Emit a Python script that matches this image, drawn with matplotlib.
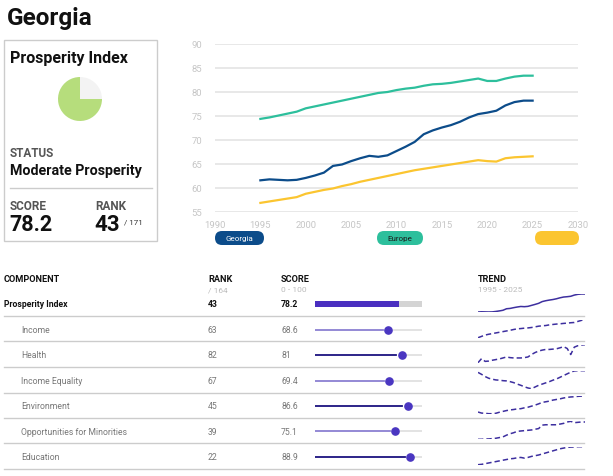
import numpy as np
import matplotlib.pyplot as plt
from matplotlib.patches import FancyBboxPatch, Rectangle

plt.rcParams['font.family'] = ['Roboto', 'DejaVu Sans']

# --- data ---
years = np.arange(1995, 2026)

georgia = [61.6, 61.8, 61.7, 61.6, 61.7, 62.1, 62.6, 63.2, 64.6, 64.9,
           65.6, 66.2, 66.7, 66.5, 66.8, 67.7, 68.6, 69.6, 71.2, 72.0,
           72.6, 73.1, 73.8, 74.7, 75.4, 75.7, 76.1, 77.2, 77.9, 78.2, 78.2]
europe = [74.4, 74.7, 75.1, 75.5, 75.9, 76.6, 77.0, 77.4, 77.8, 78.2,
          78.6, 79.0, 79.4, 79.8, 80.0, 80.4, 80.7, 80.9, 81.3, 81.6,
          81.7, 81.9, 82.2, 82.5, 82.8, 82.3, 82.3, 82.8, 83.2, 83.4, 83.4]
world = [56.9, 57.2, 57.5, 57.8, 58.1, 58.8, 59.2, 59.6, 59.9, 60.4,
         60.8, 61.3, 61.7, 62.1, 62.5, 62.9, 63.3, 63.7, 64.0, 64.3,
         64.6, 64.9, 65.2, 65.5, 65.8, 65.6, 65.5, 66.2, 66.4, 66.5, 66.6]

pie_share = [75, 25]

components = ['Prosperity Index', 'Income', 'Health', 'Income Equality',
              'Environment', 'Opportunities for Minorities', 'Education']
ranks = [43, 63, 82, 67, 45, 39, 22]
scores = [78.2, 68.6, 81, 69.4, 86.6, 75.1, 88.9]

income = [55.0, 56.0, 57.0, 57.6, 58.1, 58.6, 59.1, 59.6, 60.1, 60.6,
          61.2, 61.7, 61.9, 62.2, 62.4, 62.7, 63.2, 63.7, 64.0, 64.2,
          64.7, 65.0, 65.3, 65.5, 65.8, 66.0, 66.3, 66.5, 67.3, 68.1, 68.6]
health = [70.0, 72.5, 70.8, 71.0, 71.5, 71.9, 72.3, 72.9, 73.5, 73.1,
          72.9, 72.9, 72.9, 73.1, 73.5, 75.0, 76.2, 77.1, 77.7, 78.1,
          78.1, 78.3, 78.5, 79.1, 79.8, 78.7, 75.0, 79.5, 80.4, 80.8, 81.0]
income_equality = [68.7, 67.9, 67.0, 66.3, 65.9, 65.6, 65.5, 65.3, 65.2, 64.9,
                   64.5, 63.9, 63.4, 62.8, 62.3, 62.0, 62.7, 63.4, 63.9, 64.4,
                   64.9, 65.5, 66.0, 66.7, 67.4, 68.1, 68.8, 69.3, 69.4, 69.4, 69.4]
environment = [78.8, 78.3, 78.2, 78.0, 78.0, 78.2, 78.7, 79.1, 79.5, 79.8,
               80.0, 80.3, 80.4, 80.8, 81.1, 81.6, 82.1, 82.7, 83.4, 83.7,
               84.0, 84.5, 84.8, 85.1, 85.5, 85.8, 86.0, 86.1, 86.3, 86.4, 86.6]
minorities = [65.1, 65.1, 65.3, 65.3, 65.5, 65.7, 66.1, 66.5, 67.5, 68.3,
              68.9, 69.7, 69.9, 70.1, 70.3, 70.5, 70.9, 71.3, 73.3, 73.5,
              73.5, 73.5, 73.5, 73.9, 74.3, 75.1, 75.5, 74.7, 74.9, 75.1, 75.1]
education = [78.5, 78.7, 79.1, 79.5, 79.9, 80.3, 80.7, 81.1, 81.5, 81.9,
             82.1, 82.5, 82.7, 82.3, 82.7, 83.3, 83.7, 84.1, 84.7, 85.3,
             85.9, 86.5, 87.1, 87.7, 88.1, 88.5, 88.7, 88.7, 88.9, 88.9, 88.9]
trends = [georgia, income, health, income_equality, environment, minorities, education]

W, H = 613, 477
fig = plt.figure(figsize=(W / 100, H / 100), dpi=100)


def box(x0, y0, x1, y1):
    # pixel box (top-left origin) -> figure fraction rect
    return [x0 / W, 1 - y1 / H, (x1 - x0) / W, (y1 - y0) / H]


# overlay axes in pixel coordinates for text and rules
ov = fig.add_axes([0, 0, 1, 1])
ov.set_xlim(0, W)
ov.set_ylim(H, 0)
ov.axis('off')

# --- header card ---
ov.text(7, 25, 'Georgia', fontsize=17.5, fontweight='bold', color='#111111')
ov.add_patch(Rectangle((4, 41), 153, 201, fill=False, ec='#cccccc', lw=1))
ov.text(10, 63, 'Prosperity Index', fontsize=11.5, fontweight='bold', color='#111111')
ov.text(10, 157, 'STATUS', fontsize=8.5, fontweight='bold', color='#555555')
ov.text(10, 175, 'Moderate Prosperity', fontsize=10.3, fontweight='bold', color='#111111')
ov.plot([10, 152], [189, 189], color='#cccccc', lw=1)
ov.text(10, 210, 'SCORE', fontsize=8.5, fontweight='bold', color='#555555')
ov.text(95, 210, 'RANK', fontsize=8.5, fontweight='bold', color='#555555')
ov.text(9, 231.5, '78.2', fontsize=15.5, fontweight='bold', color='#111111')
ov.text(94, 231.5, '43', fontsize=16, fontweight='bold', color='#111111')
ov.text(124, 224.5, '/ 171', fontsize=5.8, color='#333333')

pax = fig.add_axes(box(58, 78, 102, 122))
pax.pie(pie_share, colors=['#b6dd7c', '#f3f3f3'], startangle=0, counterclock=False)
pax.set_xlim(-1, 1)
pax.set_ylim(-1, 1)
pax.set_aspect('equal')

# --- line chart ---
ax = fig.add_axes(box(215, 45, 578, 213))
ax.plot(years, europe, color='#2dbf9c', lw=1.6)
ax.plot(years, world, color='#fbc530', lw=1.6)
ax.plot(years, georgia, color='#0c4c8a', lw=1.6)
ax.set_xlim(1990, 2030)
ax.set_ylim(55, 90)
ax.set_xticks(range(1990, 2031, 5))
ax.set_yticks(range(55, 91, 5))
ax.grid(axis='y', color='#e2e2e2', lw=1.1)
ax.set_axisbelow(True)
for s in ax.spines.values():
    s.set_visible(False)
ax.tick_params(length=0, labelsize=6.8, labelcolor='#c6c6c6')
ax.tick_params(axis='y', pad=9)
ax.tick_params(axis='x', pad=6)
ax.patch.set_alpha(0)

pills = [('Georgia', 215, 264, '#0c4c8a', 'white'),
         ('Europe', 377, 423, '#2dbf9c', '#1a1a1a'),
         ('', 535, 579, '#fbc530', 'white')]
for label, x0, x1, fc, tc in pills:
    ov.add_patch(FancyBboxPatch((x0, 232), x1 - x0, 14,
                                boxstyle='round,pad=0,rounding_size=7',
                                fc=fc, ec='none'))
    ov.text((x0 + x1) / 2, 239.5, label, fontsize=5.8, color=tc,
            ha='center', va='center')

# --- table ---
hdr_y = 282
ov.text(4, hdr_y, 'COMPONENT', fontsize=6.6, fontweight='bold', color='#111111')
ov.text(208, hdr_y, 'RANK', fontsize=6.6, fontweight='bold', color='#111111')
ov.text(281, hdr_y, 'SCORE', fontsize=6.6, fontweight='bold', color='#111111')
ov.text(478, hdr_y, 'TREND', fontsize=6.6, fontweight='bold', color='#111111')
ov.text(208, 292.5, '/ 164', fontsize=6, color='#bbbbbb')
ov.text(281, 292.5, '0 - 100', fontsize=6, color='#bbbbbb')
ov.text(478, 292.5, '1995 - 2025', fontsize=6, color='#bbbbbb')

row_y = [305, 330.7, 355.7, 381.7, 406.7, 432.3, 457.7]
sep_y = [316.7, 342.3, 368, 393.7, 419, 444.3, 470]
for y in sep_y:
    ov.plot([4, 584], [y, y], color='#cccccc', lw=1)

slider_cols = ['#1b137f', '#8b80d2']
for i, (name, rk, sc, tr) in enumerate(zip(components, ranks, scores, trends)):
    y = row_y[i]
    if i == 0:
        ov.text(4, y, name, fontsize=6.2, fontweight='bold', color='#111111', va='center')
        ov.text(208, y, str(rk), fontsize=6.2, fontweight='bold', color='#111111', va='center')
        ov.text(281, y, f'{sc:g}', fontsize=6.2, fontweight='bold', color='#111111', va='center')
    else:
        ov.text(21, y, name, fontsize=6.2, color='#777777', va='center')
        ov.text(208, y, str(rk), fontsize=6.2, color='#777777', va='center')
        ov.text(281, y, f'{sc:g}', fontsize=6.2, color='#777777', va='center')

    sax = fig.add_axes(box(315, y - 4, 422, y + 4))
    sax.set_xlim(0, 100)
    sax.set_ylim(-1, 1)
    sax.axis('off')
    if i == 0:
        sax.barh(0, 100, height=1.5, color='#d4d4d4')
        sax.barh(0, sc, height=1.5, color='#4a2fc0')
    else:
        gap = 5
        sax.plot([0, sc - gap], [0, 0], color=slider_cols[i % 2], lw=1.3)
        sax.plot([sc + gap, 100], [0, 0], color='#e0e0e0', lw=1.3)
        sax.plot(sc, 0, 'o', ms=5.2, color='#4a36c1', clip_on=False)

    tax = fig.add_axes(box(478, y - 10, 585, y + 8))
    tax.plot(years, tr, color='#3d2f9f', lw=1.1,
             ls='-' if i == 0 else (0, (3.5, 2)))
    tax.set_xlim(1995, 2025)
    tax.set_ylim(min(tr), max(tr))
    tax.axis('off')

fig.savefig('out.png', dpi=100)
